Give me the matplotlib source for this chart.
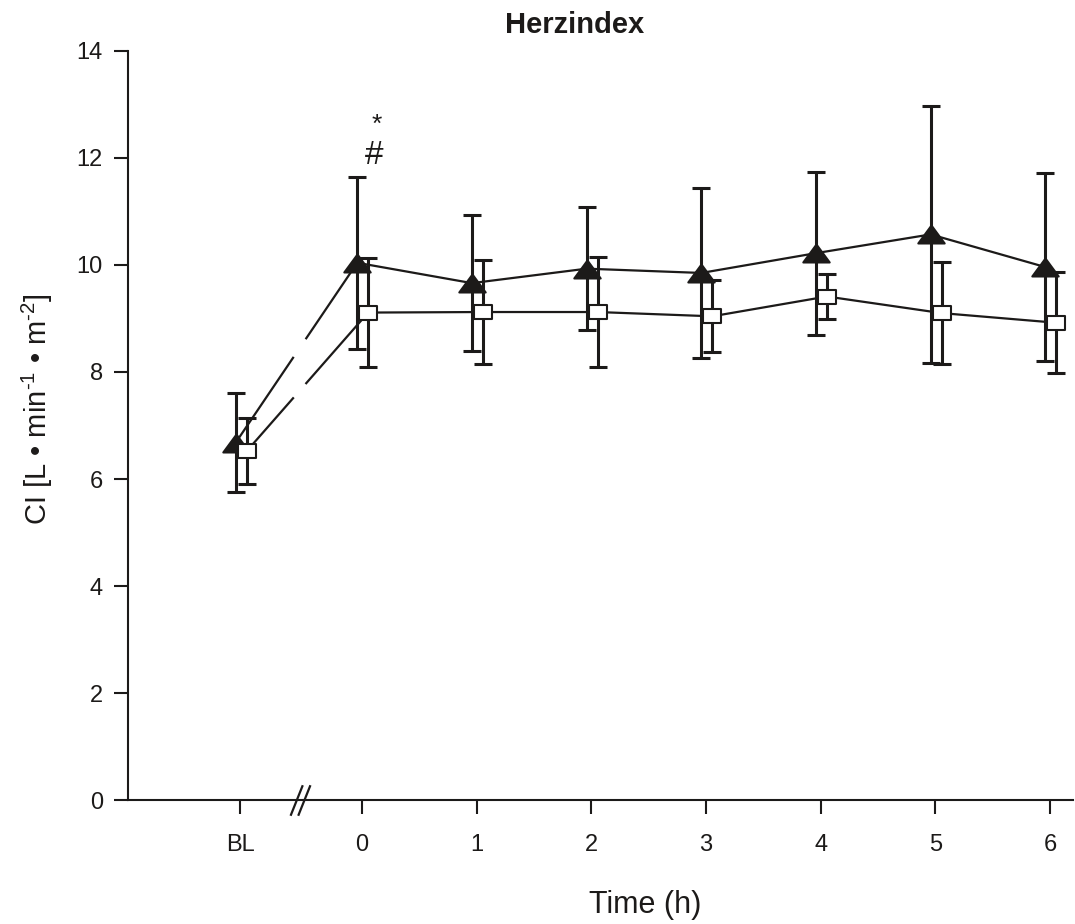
import matplotlib
import numpy as np

matplotlib.use("Agg")
import matplotlib.pyplot as plt  # noqa: E402
from matplotlib.path import Path  # noqa: E402

plt.rcParams["font.family"] = ["Liberation Sans", "DejaVu Sans"]
plt.rcParams["mathtext.fontset"] = "custom"
plt.rcParams["mathtext.rm"] = "Liberation Sans"
plt.rcParams["mathtext.it"] = "Liberation Sans:italic"
plt.rcParams["mathtext.bf"] = "Liberation Sans:bold"

# data --------------------------------------------------------------------
TIME_LABELS = ["BL", "0", "1", "2", "3", "4", "5", "6"]
TIME_POS = [-1.06, 0, 1, 2, 3, 4, 5, 6]
TRI_MEAN = [6.68, 10.04, 9.66, 9.93, 9.85, 10.22, 10.57, 9.96]
TRI_SD = [0.93, 1.61, 1.27, 1.15, 1.59, 1.52, 2.40, 1.75]
SQ_MEAN = [6.52, 9.11, 9.12, 9.12, 9.04, 9.41, 9.10, 8.92]
SQ_SD = [0.62, 1.02, 0.97, 1.03, 0.67, 0.42, 0.95, 0.94]

INK = "#1c1a19"
TRI_DX, SQ_DX = -0.04, 0.055
GAP = (-0.60, -0.485)          # interruption of the BL -> 0 segment
BREAK_X = -0.54

tri_marker = Path([(-1, -0.68), (1, -0.68), (0, 0.68), (-1, -0.68)],
                  [Path.MOVETO, Path.LINETO, Path.LINETO, Path.CLOSEPOLY])
sq_marker = Path([(-1, -0.85), (1, -0.85), (1, 0.85), (-1, 0.85), (-1, -0.85)],
                 [Path.MOVETO, Path.LINETO, Path.LINETO, Path.LINETO, Path.CLOSEPOLY])
break_marker = Path([(-0.65, -1), (0.15, 1), (-0.15, -1), (0.65, 1)],
                    [Path.MOVETO, Path.LINETO, Path.MOVETO, Path.LINETO])


def draw_series(ax, xs, ys, sd, marker, ms, face):
    xs, ys = np.asarray(xs, float), np.asarray(ys, float)
    ax.errorbar(xs, ys, yerr=sd, fmt="none", ecolor=INK, elinewidth=2.2,
                capsize=6.5, capthick=2.2, zorder=2)
    # BL -> 0 drawn with a gap at the axis break
    gx = np.array(GAP)
    gy = np.interp(gx, xs[:2], ys[:2])
    ax.plot([xs[0], gx[0]], [ys[0], gy[0]], color=INK, lw=1.6, zorder=2)
    ax.plot([gx[1], xs[1]], [gy[1], ys[1]], color=INK, lw=1.6, zorder=2)
    ax.plot(xs[1:], ys[1:], color=INK, lw=1.6, zorder=2)
    ax.plot(xs, ys, ls="none", marker=marker, ms=ms, mfc=face, mec=INK,
            mew=1.5, zorder=3)


fig = plt.figure(figsize=(10.75, 9.24), dpi=100)
ax = fig.add_axes([0.119, 0.134, 0.879, 0.811])

pos = np.array(TIME_POS)
draw_series(ax, pos + TRI_DX, TRI_MEAN, TRI_SD, tri_marker, 19, INK)
draw_series(ax, pos + SQ_DX, SQ_MEAN, SQ_SD, sq_marker, 12.5, "white")

ax.set_xlim(-2.04, 6.2)
ax.set_ylim(0, 14)
ax.set_yticks(np.arange(0, 15, 2))
ax.set_xticks(TIME_POS)
ax.set_xticklabels(TIME_LABELS)
ax.tick_params(axis="y", length=10, width=1.5, pad=8, labelsize=17, colors=INK)
ax.tick_params(axis="x", length=10, width=1.5, pad=14, labelsize=17, colors=INK)
for s in ("top", "right"):
    ax.spines[s].set_visible(False)
for s in ("left", "bottom"):
    ax.spines[s].set_linewidth(1.5)
    ax.spines[s].set_color(INK)

# axis break marks
ax.plot([BREAK_X], [0], ls="none", marker=break_marker, ms=22, mfc="none",
        mec=INK, mew=1.6, clip_on=False, zorder=4)

# significance marks at 0 h
ax.text(0.11, 12.05, "#", ha="center", va="center", fontsize=24, color=INK)
ax.text(0.13, 12.62, "*", ha="center", va="center", fontsize=19, color=INK)

ax.set_ylabel(r"CI [L • min$^{\text{-1}}$ • m$^{\text{-2}}$]",
              fontsize=21, color=INK)
ax.yaxis.set_label_coords(-0.077, 0.522)
ax.set_xlabel("Time (h)", fontsize=22, color=INK)
ax.xaxis.set_label_coords(0.547, -0.12)
ax.text(0.473, 1.035, "Herzindex", transform=ax.transAxes, ha="center",
        va="center", fontsize=21, fontweight="bold", color=INK)

fig.savefig("out.png", dpi=100)
